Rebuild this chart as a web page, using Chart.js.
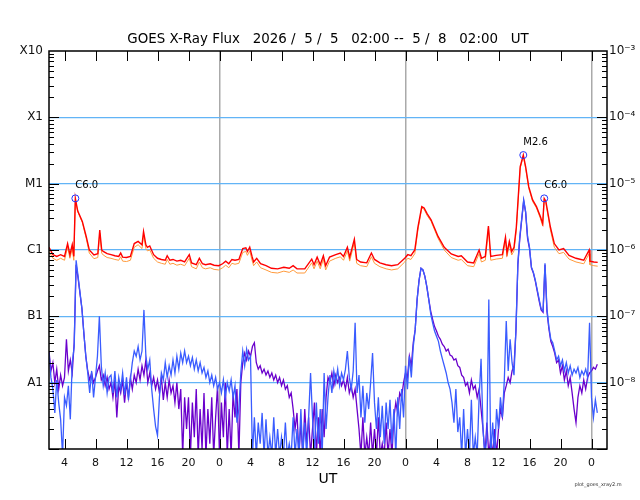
<!DOCTYPE html>
<html>
<head>
<meta charset="utf-8">
<script src="https://cdn.jsdelivr.net/npm/chart.js@4"></script>
<style>
  body { margin: 0; background: #fff; }
  canvas { display: block; }
</style>
</head>
<body>
<canvas id="myChart" width="640" height="500"></canvas>
<script>
// time axis: hours after 2026-05-05 02:00 UT
var xTickHours = [2,6,10,14,18,22,26,30,34,38,42,46,50,54,58,62,66,70];
var xTickLabels = ["4","8","12","16","20","0","4","8","12","16","20","0","4","8","12","16","20","0"];
var dayLines = [22,46,70];

var yTickValues = [1e-8,1e-7,1e-6,1e-5,1e-4,1e-3];
var classLabels = ["A1","B1","C1","M1","X1","X10"];
var powerLabels = ["10\u207B\u2078","10\u207B\u2077","10\u207B\u2076","10\u207B\u2075","10\u207B\u2074","10\u207B\u00B3"];

// long channel (0.1-0.8 nm), primary and secondary
var longT = [
  0,0.5,1,1.5,2,2.4,2.7,3,3.2,3.4,
  3.7,4.3,4.8,5.2,5.8,6.3,6.55,6.8,7,7.5,
  8,8.5,9,9.25,9.5,10,10.5,11,11.5,12,
  12.2,12.5,12.7,13,13.5,14,14.5,15,15.25,15.6,
  16,16.5,17,17.5,18.1,18.4,19,19.4,19.8,20.2,
  20.8,21.3,21.9,22.4,22.8,23.2,23.6,24,24.5,25,
  25.4,25.6,25.9,26.2,26.4,26.8,27.3,28,28.7,29.5,
  30.3,31,31.5,32,33,33.9,34.2,34.6,35,35.4,
  35.7,36.2,37,37.6,38,38.5,38.8,39.4,39.7,40.2,
  41,41.6,42,42.7,43.5,44.2,45,45.9,46.3,46.7,
  47.2,47.6,48.1,48.4,48.8,49.3,50.2,51,51.9,52.8,
  53.2,54,54.8,55.5,55.8,56.3,56.7,57,57.7,58.5,
  58.9,59.1,59.4,59.7,60,60.3,60.8,61.2,61.5,61.9,
  62.4,62.9,63.4,63.7,63.9,64.1,64.7,65.2,65.8,66.4,
  67.1,68,69,69.7,69.8,70.3,70.8
];
var longRed = [
  1.1e-6,8.5e-7,8e-7,8.5e-7,8e-7,1.25e-6,8.5e-7,1.2e-6,8e-7,6e-6,
  3.9e-6,2.7e-6,1.6e-6,1e-6,8.4e-7,8.8e-7,2e-6,1e-6,9.5e-7,8.8e-7,
  8.5e-7,8.2e-7,8e-7,9e-7,7.8e-7,7.7e-7,8e-7,1.25e-6,1.35e-6,1.2e-6,
  1.9e-6,1.2e-6,1.1e-6,1.15e-6,8.5e-7,7.5e-7,7.2e-7,7e-7,8.2e-7,7e-7,
  7.2e-7,6.8e-7,7e-7,6.6e-7,8.5e-7,6.4e-7,6e-7,7.5e-7,6.2e-7,6e-7,
  6.2e-7,5.9e-7,5.8e-7,6.2e-7,6.8e-7,6.2e-7,7.2e-7,7e-7,7.2e-7,1.05e-6,
  1.08e-6,9.5e-7,1.1e-6,8e-7,6.6e-7,7.5e-7,6.2e-7,5.8e-7,5.3e-7,5.2e-7,
  5.5e-7,5.3e-7,5.8e-7,5.2e-7,5.2e-7,7.3e-7,6e-7,7.8e-7,6e-7,8.2e-7,
  5.8e-7,7.8e-7,8.5e-7,9e-7,8e-7,1.1e-6,7.8e-7,1.45e-6,7.2e-7,6.6e-7,
  6.4e-7,9e-7,7.2e-7,6.4e-7,6e-7,5.8e-7,6e-7,7.5e-7,8.5e-7,8.2e-7,
  1e-6,2.2e-6,4.5e-6,4.3e-6,3.5e-6,2.85e-6,1.6e-6,1.1e-6,8.7e-7,8e-7,
  8.2e-7,6.6e-7,6.4e-7,1e-6,7.5e-7,8e-7,2.3e-6,8e-7,8.3e-7,8.5e-7,
  1.55e-6,9e-7,1.35e-6,9.5e-7,1.1e-6,2.2e-6,1.8e-5,2.7e-5,1.8e-5,9e-6,
  5.7e-6,4.5e-6,3.2e-6,2.5e-6,6e-6,5.5e-6,2.2e-6,1.25e-6,1e-6,1.05e-6,
  8.3e-7,7.5e-7,7e-7,1e-6,6.8e-7,6.6e-7,6.5e-7
];
var longOrange = [
  9.5e-7,7.5e-7,7e-7,7.5e-7,7e-7,1.1e-6,7.5e-7,1.05e-6,7e-7,5.8e-6,
  3.8e-6,2.6e-6,1.5e-6,9e-7,7.4e-7,7.7e-7,1.8e-6,9e-7,8.4e-7,7.7e-7,
  7.5e-7,7.2e-7,7e-7,7.9e-7,6.8e-7,6.7e-7,7e-7,1.1e-6,1.2e-6,1.05e-6,
  1.7e-6,1.05e-6,9.7e-7,1e-6,7.5e-7,6.6e-7,6.3e-7,6.1e-7,7.2e-7,6.1e-7,
  6.3e-7,5.9e-7,6.1e-7,5.8e-7,7.5e-7,5.6e-7,5.2e-7,6.6e-7,5.4e-7,5.2e-7,
  5.4e-7,5.1e-7,5e-7,5.4e-7,5.9e-7,5.4e-7,6.3e-7,6.1e-7,6.3e-7,9.2e-7,
  9.5e-7,8.3e-7,9.7e-7,7e-7,5.8e-7,6.6e-7,5.4e-7,5e-7,4.6e-7,4.5e-7,
  4.8e-7,4.6e-7,5e-7,4.5e-7,4.5e-7,6.4e-7,5.2e-7,6.8e-7,5.2e-7,7.2e-7,
  5e-7,6.8e-7,7.5e-7,7.9e-7,7e-7,9.7e-7,6.8e-7,1.3e-6,6.3e-7,5.8e-7,
  5.6e-7,7.9e-7,6.3e-7,5.6e-7,5.2e-7,5e-7,5.2e-7,6.6e-7,7.5e-7,7.2e-7,
  8.8e-7,2e-6,4.3e-6,4.1e-6,3.3e-6,2.7e-6,1.5e-6,1e-6,7.7e-7,7e-7,
  7.2e-7,5.8e-7,5.6e-7,8.8e-7,6.6e-7,7e-7,2.1e-6,7e-7,7.3e-7,7.5e-7,
  1.4e-6,8e-7,1.2e-6,8.4e-7,9.7e-7,2e-6,1.7e-5,2.6e-5,1.7e-5,8.5e-6,
  5.4e-6,4.3e-6,3e-6,2.3e-6,5.8e-6,5.2e-6,2e-6,1.1e-6,8.8e-7,9.2e-7,
  7.3e-7,6.6e-7,6.2e-7,8.8e-7,6e-7,5.8e-7,5.7e-7
];

// short channel (0.05-0.4 nm), primary and secondary; one row = 2 hours
var shortT = [
  0,0.25,0.5,0.75,1,1.25,1.5,1.75,
  2,2.25,2.5,2.75,3,3.25,3.5,3.75,
  4,4.25,4.5,4.75,5,5.25,5.5,5.75,
  6,6.25,6.5,6.75,7,7.25,7.5,7.75,
  8,8.25,8.5,8.75,9,9.25,9.5,9.75,
  10,10.25,10.5,10.75,11,11.25,11.5,11.75,
  12,12.25,12.5,12.75,13,13.25,13.5,13.75,
  14,14.25,14.5,14.75,15,15.25,15.5,15.75,
  16,16.25,16.5,16.75,17,17.25,17.5,17.75,
  18,18.25,18.5,18.75,19,19.25,19.5,19.75,
  20,20.25,20.5,20.75,21,21.25,21.5,21.75,
  22,22.25,22.5,22.75,23,23.25,23.5,23.75,
  24,24.25,24.5,24.75,25,25.25,25.5,25.75,
  26,26.25,26.5,26.75,27,27.25,27.5,27.75,
  28,28.25,28.5,28.75,29,29.25,29.5,29.75,
  30,30.25,30.5,30.75,31,31.25,31.5,31.75,
  32,32.25,32.5,32.75,33,33.25,33.5,33.75,
  34,34.25,34.5,34.75,35,35.25,35.5,35.75,
  36,36.25,36.5,36.75,37,37.25,37.5,37.75,
  38,38.25,38.5,38.75,39,39.25,39.5,39.75,
  40,40.25,40.5,40.75,41,41.25,41.5,41.75,
  42,42.25,42.5,42.75,43,43.25,43.5,43.75,
  44,44.25,44.5,44.75,45,45.25,45.5,45.75,
  46,46.25,46.5,46.75,47,47.25,47.5,47.75,
  48,48.25,48.5,48.75,49,49.25,49.5,49.75,
  50,50.25,50.5,50.75,51,51.25,51.5,51.75,
  52,52.25,52.5,52.75,53,53.25,53.5,53.75,
  54,54.25,54.5,54.75,55,55.25,55.5,55.75,
  56,56.25,56.5,56.75,57,57.25,57.5,57.75,
  58,58.25,58.5,58.75,59,59.25,59.5,59.75,
  60,60.25,60.5,60.75,61,61.25,61.5,61.75,
  62,62.25,62.5,62.75,63,63.25,63.5,63.75,
  64,64.25,64.5,64.75,65,65.25,65.5,65.75,
  66,66.25,66.5,66.75,67,67.25,67.5,67.75,
  68,68.25,68.5,68.75,69,69.25,69.5,69.75,
  70,70.25,70.5,70.75
];
var shortBlue = [
  2.8e-8,1.2e-8,8e-9,3.5e-9,1.1e-8,5e-9,2.8e-9,8e-10,
  6e-9,4.5e-9,9e-9,2.8e-9,2e-8,3.5e-8,7e-7,4e-7,
  2.3e-7,1.3e-7,5.5e-8,2.5e-8,1.4e-8,7e-9,1.5e-8,6e-9,
  1.2e-8,2.5e-8,1e-7,1.8e-8,9e-9,1.4e-8,7e-9,1.2e-8,
  1.3e-8,7e-9,1.5e-8,6e-9,1.2e-8,8e-9,1.4e-8,6.5e-9,
  1.2e-8,5.5e-9,1.1e-8,2e-8,3e-8,2.5e-8,3.5e-8,2.2e-8,
  3e-8,1.25e-7,2.5e-8,1.6e-8,2.2e-8,8e-9,4e-9,2.2e-9,
  1.6e-9,6e-9,1.4e-8,1.1e-8,2e-8,1.2e-8,1.8e-8,1.3e-8,
  2.2e-8,1.4e-8,2.5e-8,1.6e-8,2.8e-8,2e-8,3e-8,2e-8,
  2.5e-8,1.8e-8,2.4e-8,1.6e-8,2.2e-8,1.5e-8,2e-8,1.4e-8,
  1.7e-8,1.2e-8,1.5e-8,1e-8,1.3e-8,9e-9,1.2e-8,8e-9,
  1e-8,7e-9,1.1e-8,6e-9,1e-8,7.5e-9,1.1e-8,6e-9,
  9e-9,2.5e-9,4e-9,1.4e-8,3e-8,1.8e-8,3.2e-8,2.2e-8,
  2.5e-8,8e-10,3e-9,8e-10,2.5e-9,1.2e-9,3.5e-9,8e-10,
  2.8e-9,8e-10,1.5e-9,8e-10,3e-9,8e-10,2e-9,8e-10,
  1.5e-9,8e-10,2.5e-9,8e-10,1.2e-9,8e-10,3e-9,8e-10,
  2e-9,8e-10,4e-9,8e-10,2.5e-9,8e-10,3e-9,1.4e-8,
  3e-9,8e-10,5e-9,1.2e-9,4e-9,8e-10,1.4e-8,2e-9,
  6e-9,1.3e-8,7e-9,1.5e-8,1e-8,1.6e-8,9e-9,1.4e-8,
  1.1e-8,1.6e-8,3e-8,1.2e-8,8e-9,1.5e-8,8e-8,7e-9,
  1.3e-8,3e-9,9e-9,2.5e-9,7e-9,4e-9,1e-8,2.8e-8,
  5e-9,2e-9,6e-9,1.5e-9,4.5e-9,1.2e-9,5e-9,2e-9,
  5.5e-9,1.2e-9,4e-9,8e-10,6e-9,2e-9,8e-9,3e-9,
  1.8e-8,8e-9,2.5e-8,1.2e-8,3.5e-8,6.3e-8,1.8e-7,3.5e-7,
  5.3e-7,5e-7,4e-7,2.8e-7,1.8e-7,1.1e-7,8e-8,6e-8,
  5e-8,4.2e-8,3e-8,2.3e-8,1.8e-8,1.4e-8,1e-8,8e-9,
  5e-9,2.5e-9,8e-9,1.8e-9,3e-9,8e-10,4e-9,8e-10,
  2e-9,8e-10,5.5e-9,8e-10,1.5e-9,8e-10,6e-9,2.3e-8,
  2e-9,8e-10,1.5e-9,1.8e-7,8e-10,2.5e-9,8e-10,4e-9,
  2e-9,6e-9,3e-9,1.1e-8,8.5e-8,1.5e-8,4.5e-8,2e-8,
  1.3e-8,6.3e-8,6.3e-7,1.6e-6,3e-6,5.7e-6,3.8e-6,1.6e-6,
  1.1e-6,5.5e-7,4.6e-7,3.5e-7,2.5e-7,1.8e-7,1.3e-7,1.2e-7,
  6.3e-7,1.3e-7,7e-8,4.5e-8,4e-8,3e-8,2.2e-8,2.5e-8,
  1.8e-8,2.2e-8,1.5e-8,2e-8,1.4e-8,1.8e-8,1.3e-8,1.6e-8,
  1.4e-8,1.7e-8,1.2e-8,1.5e-8,1.3e-8,1.6e-8,1.2e-8,8e-8,
  6e-9,3e-9,5.5e-9,3.5e-9
];
var shortPurple = [
  3e-8,1.5e-8,2e-8,1e-8,1.6e-8,8e-9,1.3e-8,9e-9,
  1.2e-8,4.5e-8,1.5e-8,2.2e-8,1.4e-8,4e-8,6e-7,3.8e-7,
  2.2e-7,1.3e-7,5.5e-8,2.5e-8,1.5e-8,1.1e-8,1.4e-8,1e-8,
  1.2e-8,1.5e-8,1.8e-8,1.1e-8,1.3e-8,9e-9,1.2e-8,8e-9,
  1e-8,6e-9,1.1e-8,3e-9,9e-9,7e-9,1.1e-8,5e-9,
  1e-8,6e-9,1.2e-8,8e-9,1.3e-8,1e-8,1.6e-8,1.1e-8,
  1.8e-8,1.3e-8,2.2e-8,1e-8,1.4e-8,9e-9,1.2e-8,8e-9,
  1.1e-8,7e-9,1.2e-8,5.5e-9,1e-8,6e-9,1.1e-8,7e-9,
  9e-9,5e-9,1e-8,4e-9,8e-9,8e-10,6e-9,2e-9,
  6e-9,8e-10,5e-9,1.5e-9,8e-9,8e-10,4e-9,1e-9,
  7e-9,8e-10,4e-9,1.2e-9,6e-9,8e-10,3e-9,9e-9,
  8e-10,5e-9,1.5e-9,1e-8,8e-10,4e-9,8e-10,7e-9,
  3e-9,8e-9,8e-10,1e-8,2e-8,2.8e-8,2.2e-8,3e-8,
  2.5e-8,3.5e-8,4e-8,2e-8,1.6e-8,1.8e-8,1.4e-8,1.6e-8,
  1.3e-8,1.5e-8,1.2e-8,1.4e-8,1.1e-8,1.3e-8,1e-8,1.2e-8,
  9e-9,1.1e-8,8e-9,9e-9,6e-9,7e-9,4e-9,2e-9,
  3.5e-9,8e-10,2.5e-9,8e-10,4e-9,1.2e-9,3e-9,8e-10,
  2e-9,5e-9,8e-10,3e-9,8e-10,4e-9,1.5e-9,6e-9,
  1.2e-8,1e-8,1.4e-8,9e-9,1.3e-8,1e-8,1.2e-8,9e-9,
  1.1e-8,8e-9,1.2e-8,7e-9,9e-9,6e-9,8e-9,4e-9,
  2e-9,8e-10,3e-9,8e-10,1.5e-9,8e-10,2.5e-9,8e-10,
  2e-9,8e-10,3e-9,8e-10,1.2e-9,8e-10,2.5e-9,8e-10,
  2e-9,8e-10,3e-9,5e-9,3.5e-9,7e-9,6e-9,1e-8,
  1.4e-8,1.2e-8,2.5e-8,1.8e-8,4e-8,6.3e-8,1.8e-7,3.5e-7,
  5.3e-7,5e-7,4e-7,2.8e-7,1.8e-7,1.2e-7,9e-8,7e-8,
  6e-8,5e-8,4.5e-8,3.8e-8,3.5e-8,3e-8,3.2e-8,2.6e-8,
  2.5e-8,2.2e-8,2.3e-8,1.8e-8,1.7e-8,1.3e-8,1.2e-8,9e-9,
  1e-8,7e-9,1.1e-8,8e-9,9e-9,6e-9,8e-9,4e-9,
  2e-9,8e-10,2.5e-9,8e-10,1.5e-9,8e-10,2e-9,8e-10,
  2e-9,4e-9,3e-9,7e-9,9e-9,1.2e-8,1e-8,1.5e-8,
  1.8e-8,6e-8,6e-7,1.5e-6,2.9e-6,5.5e-6,3.7e-6,1.5e-6,
  1.05e-6,5.4e-7,4.5e-7,3.4e-7,2.4e-7,1.7e-7,1.25e-7,1.15e-7,
  6e-7,1.2e-7,6.5e-8,4.2e-8,3.5e-8,2.8e-8,2e-8,2.2e-8,
  1.4e-8,1.8e-8,1.1e-8,1.5e-8,9e-9,1.2e-8,7e-9,4e-9,
  2.5e-9,6e-9,9e-9,7e-9,1.1e-8,8e-9,1.2e-8,1.4e-8,
  1.5e-8,1.7e-8,1.6e-8,1.9e-8
];

// flare peaks
var flareT = [3.4, 61.2, 63.9];
var flareV = [6e-6, 2.7e-5, 6e-6];
var flareLabels = ["C6.0", "M2.6", "C6.0"];

function pairs(t, v) {
  return t.map(function (h, i) { return { x: h, y: v[i] }; });
}

var FONT = "DejaVu Sans";

var decorations = {
  id: "decorations",
  afterDatasetsDraw: function (chart) {
    var ctx = chart.ctx, a = chart.chartArea;
    var xs = chart.scales.x, ys = chart.scales.y;
    ctx.save();
    ctx.strokeStyle = "#000";
    ctx.lineWidth = 1;
    ctx.beginPath();
    // inward time ticks, top and bottom
    xTickHours.forEach(function (h) {
      var px = Math.round(xs.getPixelForValue(h)) + 0.5;
      ctx.moveTo(px, a.top); ctx.lineTo(px, a.top + 10);
      ctx.moveTo(px, a.bottom); ctx.lineTo(px, a.bottom - 10);
    });
    // inward log ticks, left and right
    for (var e = -9; e < -3; e++) {
      for (var m = 1; m < 10; m++) {
        var py = Math.round(ys.getPixelForValue(m * Math.pow(10, e))) + 0.5;
        var len = m === 1 ? 10 : 5;
        ctx.moveTo(a.left, py); ctx.lineTo(a.left + len, py);
        ctx.moveTo(a.right, py); ctx.lineTo(a.right - len, py);
      }
    }
    ctx.stroke();
    // frame
    ctx.lineWidth = 1.5;
    ctx.strokeRect(a.left, a.top, a.right - a.left, a.bottom - a.top);

    // flare labels above the circles
    var meta = chart.getDatasetMeta(0);
    ctx.fillStyle = "#000";
    ctx.font = "10px '" + FONT + "'";
    ctx.textAlign = "left";
    ctx.textBaseline = "middle";
    meta.data.forEach(function (pt, i) {
      ctx.fillText(flareLabels[i], pt.x, pt.y - 13);
    });
    ctx.restore();
  },
  afterDraw: function (chart) {
    var ctx = chart.ctx, a = chart.chartArea;
    var cx = (a.left + a.right) / 2;
    ctx.save();
    ctx.fillStyle = "#000";
    ctx.textAlign = "center";
    ctx.textBaseline = "middle";
    ctx.font = "13.4px '" + FONT + "'";
    ctx.fillText("GOES X-Ray Flux   2026 /  5 /  5   02:00 --  5 /  8   02:00   UT", cx, a.top - 11);
    ctx.font = "14px '" + FONT + "'";
    ctx.fillText("UT", cx, a.bottom + 30);
    ctx.font = "5px '" + FONT + "'";
    ctx.fillStyle = "#333";
    ctx.fillText("plot_goes_xray2.m", chart.width - 42, chart.height - 15);
    ctx.restore();
  }
};

// datasets listed first are drawn on top
new Chart("myChart", {
  type: "line",
  data: {
    datasets: [
      {
        data: pairs(flareT, flareV), showLine: false,
        pointRadius: 3.5, pointStyle: "circle", pointBorderWidth: 1,
        pointBorderColor: "#2233ff", pointBackgroundColor: "rgba(0,0,0,0)"
      },
      { data: pairs(longT, longRed), borderColor: "#ff0000", borderWidth: 1.4 },
      { data: pairs(longT, longOrange), borderColor: "#ff9a3c", borderWidth: 1 },
      { data: pairs(shortT, shortBlue), borderColor: "#3a5cff", borderWidth: 1.3 },
      { data: pairs(shortT, shortPurple), borderColor: "#6a00cc", borderWidth: 1.3 }
    ]
  },
  options: {
    responsive: false,
    animation: false,
    layout: { padding: { top: 51, left: 0, right: 0, bottom: 0 } },
    elements: { point: { radius: 0 }, line: { tension: 0 } },
    plugins: { legend: { display: false }, tooltip: { enabled: false } },
    scales: {
      x: {
        type: "linear", min: 0, max: 72,
        afterBuildTicks: function (s) { s.ticks = xTickHours.map(function (h) { return { value: h }; }); },
        afterFit: function (s) { s.height = 51; },
        border: { display: false },
        grid: {
          drawTicks: false, lineWidth: 1.5,
          color: function (c) { return c.tick && dayLines.indexOf(c.tick.value) >= 0 ? "#aaaaaa" : "rgba(0,0,0,0)"; }
        },
        ticks: {
          autoSkip: false, maxRotation: 0, padding: 8, color: "#111",
          font: { family: FONT, size: 11 },
          callback: function (v) { var i = xTickHours.indexOf(v); return i < 0 ? "" : xTickLabels[i]; }
        }
      },
      y: {
        type: "logarithmic", position: "left", min: 1e-9, max: 1e-3,
        afterBuildTicks: function (s) { s.ticks = yTickValues.map(function (v) { return { value: v }; }); },
        afterFit: function (s) { s.width = 49; },
        border: { display: false },
        grid: {
          drawTicks: false, lineWidth: 1.2,
          color: function (c) { return c.tick && c.tick.value < 1e-3 ? "#62b4f6" : "rgba(0,0,0,0)"; }
        },
        ticks: {
          autoSkip: false, padding: 6, color: "#111",
          font: { family: FONT, size: 12 },
          callback: function (v) { var i = yTickValues.indexOf(v); return i < 0 ? "" : classLabels[i]; }
        }
      },
      y2: {
        type: "logarithmic", position: "right", min: 1e-9, max: 1e-3,
        afterBuildTicks: function (s) { s.ticks = yTickValues.map(function (v) { return { value: v }; }); },
        afterFit: function (s) { s.width = 33; },
        border: { display: false },
        grid: { display: false, drawTicks: false },
        ticks: {
          autoSkip: false, padding: 2, color: "#111",
          font: { family: FONT, size: 12 },
          callback: function (v) { var i = yTickValues.indexOf(v); return i < 0 ? "" : powerLabels[i]; }
        }
      }
    }
  },
  plugins: [decorations]
});
</script>
</body>
</html>
